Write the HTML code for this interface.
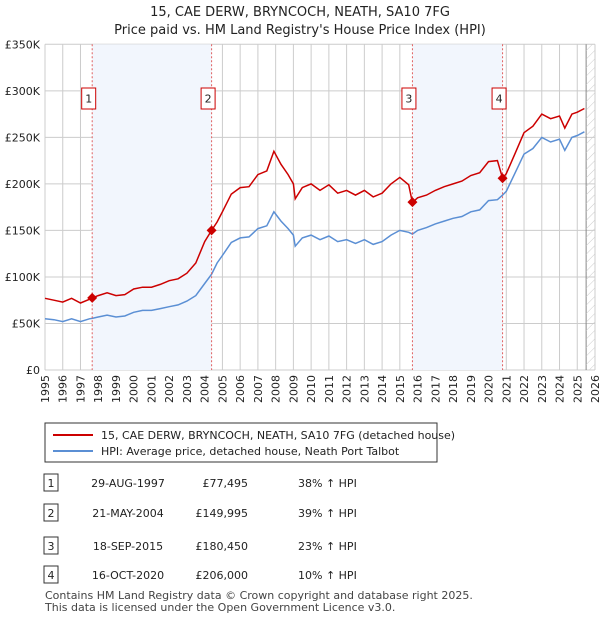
<!DOCTYPE html>
<html><head><meta charset="utf-8"><style>
body{margin:0;background:#fff;font-family:"Liberation Sans","DejaVu Sans",sans-serif;}
svg text{font-family:"DejaVu Sans","Liberation Sans",sans-serif;}
</style></head><body>
<svg id="chart" width="600" height="620" viewBox="0 0 600 620" xmlns="http://www.w3.org/2000/svg">
<defs><pattern id="hatch" width="6" height="6" patternUnits="userSpaceOnUse" patternTransform="rotate(45)"><line x1="0" y1="0" x2="0" y2="6" stroke="#ccc" stroke-width="1"/></pattern></defs>
<text x="300" y="16" text-anchor="middle" font-size="13" fill="#222">15, CAE DERW, BRYNCOCH, NEATH, SA10 7FG</text>
<text x="300" y="34" text-anchor="middle" font-size="13" fill="#222">Price paid vs. HM Land Registry's House Price Index (HPI)</text>
<g id="grid"></g><g id="shade"></g><g id="series"></g><g id="marks"></g><g id="axes"></g>
<g>
<rect x="45" y="423" width="392" height="39" fill="#fff" stroke="#333"/>
<line x1="53" y1="435" x2="93" y2="435" stroke="#cc0000" stroke-width="2"/>
<text x="101" y="439" font-size="11" fill="#222">15, CAE DERW, BRYNCOCH, NEATH, SA10 7FG (detached house)</text>
<line x1="53" y1="451" x2="93" y2="451" stroke="#5b8fd4" stroke-width="2"/>
<text x="101" y="455" font-size="11" fill="#222">HPI: Average price, detached house, Neath Port Talbot</text>
</g>
<g id="table" font-size="11" fill="#222"></g>
<text x="45" y="599" font-size="11" fill="#444">Contains HM Land Registry data © Crown copyright and database right 2025.</text>
<text x="45" y="611" font-size="11" fill="#444">This data is licensed under the Open Government Licence v3.0.</text>
</svg>
<script>
const dates=[1995.0,1995.5,1996.0,1996.5,1997.0,1997.5,1997.66,1998.0,1998.5,1999.0,1999.5,2000.0,2000.5,2001.0,2001.5,2002.0,2002.5,2003.0,2003.5,2004.0,2004.39,2004.7,2005.0,2005.5,2006.0,2006.5,2007.0,2007.5,2007.9,2008.3,2008.7,2009.0,2009.1,2009.5,2010.0,2010.5,2011.0,2011.5,2012.0,2012.5,2013.0,2013.5,2014.0,2014.5,2015.0,2015.5,2015.71,2016.0,2016.5,2017.0,2017.5,2018.0,2018.5,2019.0,2019.5,2020.0,2020.5,2020.79,2021.0,2021.5,2022.0,2022.5,2023.0,2023.5,2024.0,2024.3,2024.7,2025.0,2025.4];
const hpiValues=[55,54,52,55,52,55,55.5,57,59,57,58,62,64,64,66,68,70,74,80,93,103,115,123,137,142,143,152,155,170,160,152,145,133,142,145,140,144,138,140,136,140,135,138,145,150,148,146,150,153,157,160,163,165,170,172,182,183,188,192,212,232,238,250,245,248,236,250,252,256];
const priceValues=[77,75,73,77,72,76,77.5,80,83,80,81,87,89,89,92,96,98,104,115,138,150,159,170,189,196,197,210,214,235,221,210,200,184,196,200,193,199,190,193,188,193,186,190,200,207,199,180,185,188,193,197,200,203,209,212,224,225,206,211,233,255,262,275,270,273,260,275,277,281];
const saleDates=[1997.66,2004.39,2015.71,2020.79];
const salePrices=[77.495,149.995,180.45,206];
const saleLabels=["1","2","3","4"];
const saleDateText=["29-AUG-1997","21-MAY-2004","18-SEP-2015","16-OCT-2020"];
const salePriceText=["£77,495","£149,995","£180,450","£206,000"];
const saleHpiText=["38% ↑ HPI","39% ↑ HPI","23% ↑ HPI","10% ↑ HPI"];
const yTicks=[0,50,100,150,200,250,300,350];
const yTickLabels=["£0","£50K","£100K","£150K","£200K","£250K","£300K","£350K"];
const xTicks=[1995,1996,1997,1998,1999,2000,2001,2002,2003,2004,2005,2006,2007,2008,2009,2010,2011,2012,2013,2014,2015,2016,2017,2018,2019,2020,2021,2022,2023,2024,2025,2026];

const NS="http://www.w3.org/2000/svg";
const X0=45,X1=595,Y0=370,Y1=44.3;
const x=d=>X0+(d-1995)/(2026-1995)*(X1-X0);
const y=v=>Y0-v/350*(Y0-Y1);
function mk(tag,attrs,parent,txt){const e=document.createElementNS(NS,tag);for(const k in attrs)e.setAttribute(k,attrs[k]);if(txt!==undefined)e.textContent=txt;parent.appendChild(e);return e;}
const grid=document.getElementById('grid'),shade=document.getElementById('shade'),series=document.getElementById('series'),marks=document.getElementById('marks'),axes=document.getElementById('axes'),table=document.getElementById('table');
for(let i=0;i<4;i+=2){
 const r=mk('rect',{x:x(saleDates[i]),y:Y1,width:x(saleDates[i+1])-x(saleDates[i]),height:Y0-Y1,fill:'#f2f6fd'},shade);
 
 
}
const h=mk('rect',{x:x(2025.5),y:Y1,width:X1-x(2025.5),height:Y0-Y1,fill:'url(#hatch)'},shade);


xTicks.forEach(t=>{mk('line',{x1:x(t),x2:x(t),y1:Y1,y2:Y0,stroke:'#ccc','stroke-width':1},grid);
 const tl=mk('text',{x:0,y:0,'font-size':11,fill:'#222','text-anchor':'end',transform:`translate(${x(t)+4},${Y0+5}) rotate(-90)`},axes,String(t));
 
 });
yTicks.forEach((t,i)=>{mk('line',{x1:X0,x2:X1,y1:y(t),y2:y(t),stroke:'#ccc','stroke-width':1},grid);
 const tl=mk('text',{x:X0-5,y:y(t)+4,'font-size':11,fill:'#222','text-anchor':'end'},axes,yTickLabels[i]);
 
 });
mk('line',{x1:x(2025.5),x2:x(2025.5),y1:Y1,y2:Y0,stroke:'#888','stroke-width':1},grid);
const pth=v=>v.map((val,i)=>(i?'L':'M')+x(dates[i]).toFixed(1)+','+y(val).toFixed(1)).join('');
const hp=mk('path',{d:pth(hpiValues),fill:'none',stroke:'#5b8fd4','stroke-width':1.5},series);


const pp=mk('path',{d:pth(priceValues),fill:'none',stroke:'#cc0000','stroke-width':1.5},series);


saleDates.forEach((d,i)=>{
 mk('line',{x1:x(d),x2:x(d),y1:Y1,y2:Y0,stroke:'#e06060','stroke-width':1,'stroke-dasharray':'2,2'},marks);
 const px=x(d),py=y(salePrices[i]);
 const dm=mk('path',{d:`M${px},${py-5}L${px+5},${py}L${px},${py+5}L${px-5},${py}Z`,fill:'#cc0000'},marks);
 
 
 const b=mk('rect',{x:px-10.5,y:88,width:14,height:21,fill:'#fff',stroke:'#cc0000'},marks);
 
 
 mk('text',{x:px-3.5,y:102.5,'font-size':11,'text-anchor':'middle',fill:'#222'},marks,saleLabels[i]);
});
const rowY=[483,513,546,575];
rowY.forEach((ry,i)=>{
 const b=mk('rect',{x:44,y:ry-9,width:14,height:17,fill:'#fff',stroke:'#333'},table);
 
 
 mk('text',{x:51,y:ry+4,'text-anchor':'middle'},table,saleLabels[i]);
 mk('text',{x:128,y:ry+4,'text-anchor':'middle'},table,saleDateText[i]);
 mk('text',{x:248,y:ry+4,'text-anchor':'end'},table,salePriceText[i]);
 mk('text',{x:298,y:ry+4},table,saleHpiText[i]);
});
</script>
</body></html>
